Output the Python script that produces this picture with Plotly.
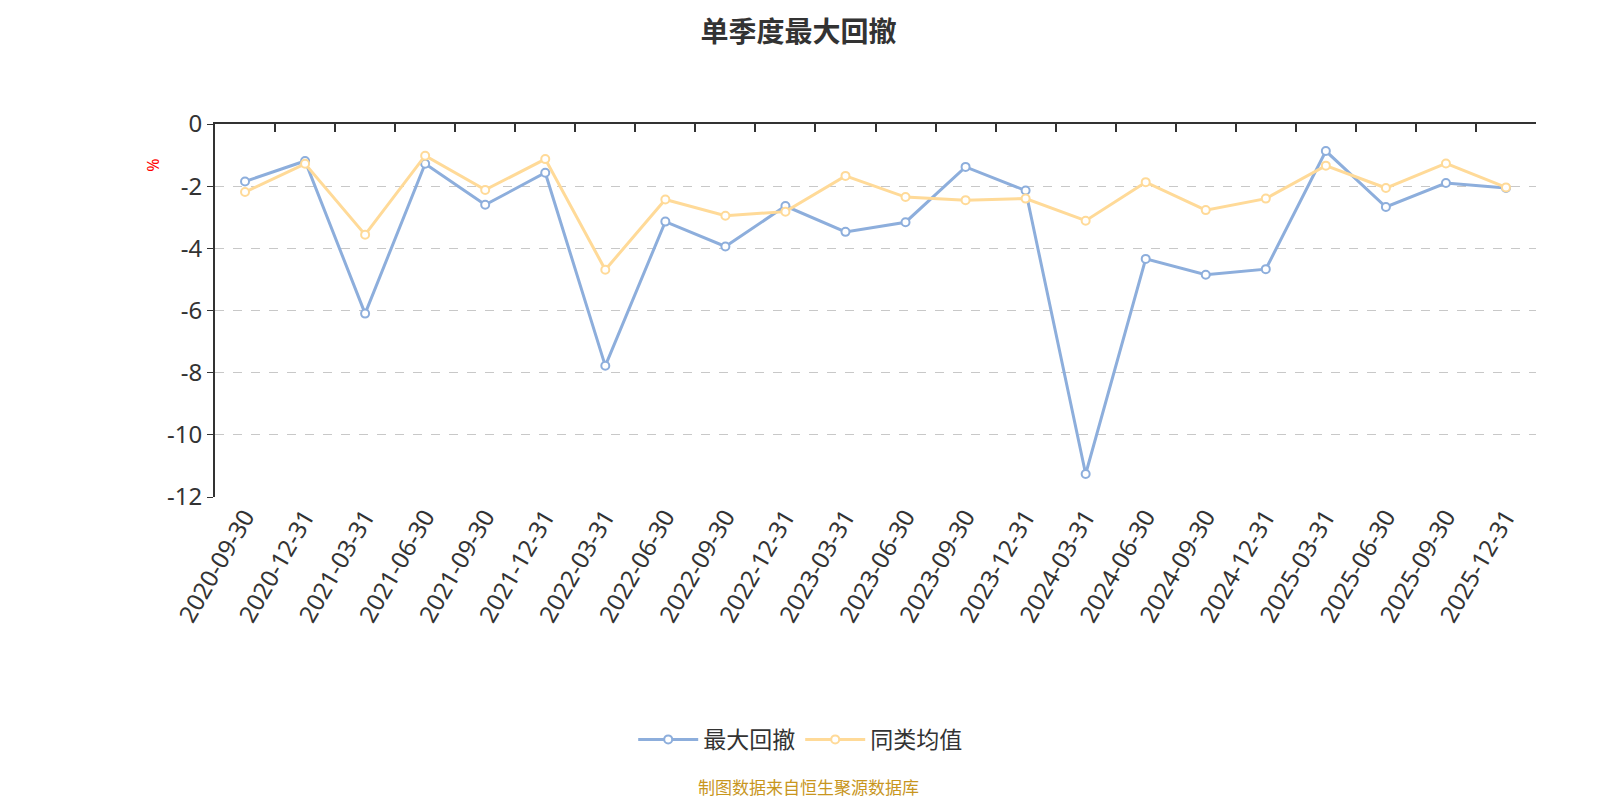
import plotly.graph_objects as go

# quarter end dates
dates = ["2020-09-30", "2020-12-31", "2021-03-31", "2021-06-30", "2021-09-30", "2021-12-31",
         "2022-03-31", "2022-06-30", "2022-09-30", "2022-12-31", "2023-03-31", "2023-06-30",
         "2023-09-30", "2023-12-31", "2024-03-31", "2024-06-30", "2024-09-30", "2024-12-31",
         "2025-03-31", "2025-06-30", "2025-09-30", "2025-12-31"]

# 最大回撤 (%)
max_drawdown = [-1.85, -1.19, -6.10, -1.28, -2.60, -1.57, -7.78, -3.14, -3.94, -2.64, -3.47,
                -3.16, -1.38, -2.14, -11.26, -4.34, -4.85, -4.67, -0.87, -2.67, -1.90, -2.06]

# 同类均值 (%)
peer_avg = [-2.19, -1.28, -3.56, -1.02, -2.12, -1.13, -4.69, -2.43, -2.95, -2.82, -1.67,
            -2.35, -2.45, -2.40, -3.11, -1.87, -2.77, -2.40, -1.34, -2.06, -1.27, -2.04]

y_ticks = [0, -2, -4, -6, -8, -10, -12]
y_tick_text = ["0", "-2", "-4", "-6", "-8", "-10", "-12"]

font_cn = "Noto Sans, Noto Sans CJK SC, sans-serif"
blue = "#8DAEDC"
orange = "#FFDA98"

fig = go.Figure()

fig.add_trace(go.Scatter(
    x=dates, y=max_drawdown, name="最大回撤", mode="lines+markers",
    line=dict(color=blue, width=3),
    marker=dict(symbol="circle", size=8, color="white", line=dict(color=blue, width=2)),
))
fig.add_trace(go.Scatter(
    x=dates, y=peer_avg, name="同类均值", mode="lines+markers",
    line=dict(color=orange, width=3),
    marker=dict(symbol="circle", size=8, color="white", line=dict(color=orange, width=2)),
))
# invisible trace so the top axis (zero line with ticks) is drawn
fig.add_trace(go.Scatter(
    x=dates, y=max_drawdown, xaxis="x2", mode="lines", opacity=0,
    showlegend=False, hoverinfo="skip",
))

x_range = [-0.5, len(dates) - 0.5]

fig.update_layout(
    width=1600, height=800,
    paper_bgcolor="white", plot_bgcolor="white",
    font=dict(family=font_cn, color="#333333"),
    title=dict(text="<b>单季度最大回撤</b>", x=0.494, xanchor="center", y=0.982, yanchor="top",
               font=dict(family="Noto Sans CJK SC", size=28, color="#333333")),
    margin=dict(l=207, r=72, t=116, b=311),
    xaxis=dict(
        type="category", range=x_range, showline=False, ticks="", showgrid=False,
        tickangle=-60, tickfont=dict(size=24, color="#333333"),
    ),
    xaxis2=dict(
        type="category", range=x_range, overlaying="x", side="top",
        showline=True, linecolor="#333333", linewidth=2,
        ticks="inside", ticklen=8, tickcolor="#333333", tickwidth=1.5,
        tickson="boundaries", showticklabels=False, showgrid=False,
    ),
    yaxis=dict(
        range=[-12, 0], tickvals=y_ticks, ticktext=y_tick_text,
        showline=True, linecolor="#333333", linewidth=2,
        ticks="outside", ticklen=6, tickcolor="#333333",
        showgrid=True, gridcolor="#c8c8c8", griddash="dash", gridwidth=1.3,
        zeroline=False, tickfont=dict(size=24, color="#333333"),
    ),
    legend=dict(orientation="h", x=0.443, xanchor="center", y=-0.65, yanchor="middle",
                font=dict(family="Noto Sans CJK SC", size=23, color="#333333"), itemwidth=60),
    showlegend=True,
    annotations=[
        dict(text="%", xref="paper", yref="y", x=0, y=-1.3, xshift=-75, showarrow=False,
             textangle=90, font=dict(size=16, color="red")),
        dict(text="制图数据来自恒生聚源数据库", xref="paper", yref="paper", x=0.449, y=-0.775,
             yanchor="middle", showarrow=False,
             font=dict(family="Noto Sans CJK SC", size=17, color="#C8961E")),
    ],
)

fig.write_html("out.html")
